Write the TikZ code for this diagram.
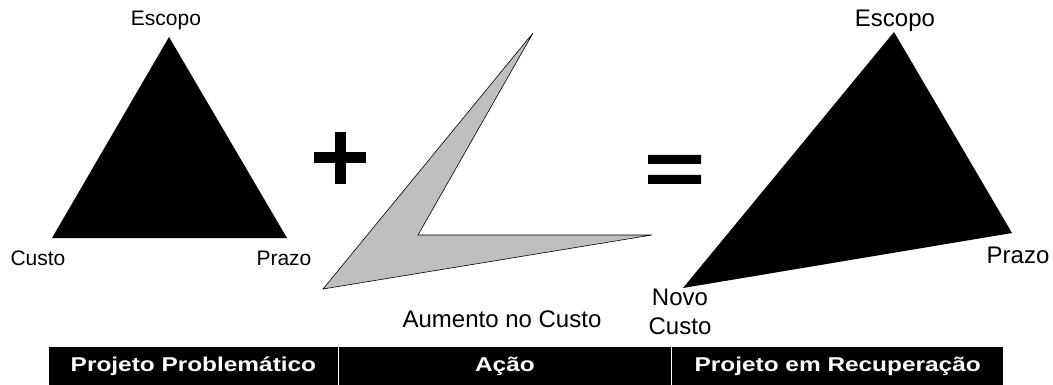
\documentclass[tikz,border=0pt]{standalone}
\usepackage{fontspec}
\usepackage{graphicx}
\setmainfont{Liberation Sans}
\usetikzlibrary{positioning}

\begin{document}
\begin{tikzpicture}[x=1pt,y=-1pt,
  lbl/.style={font=\fontsize{21}{24}\selectfont},
  lblr/.style={font=\fontsize{24}{27}\selectfont, align=center},
  cell/.style={fill=black, text=white, minimum height=38pt, inner sep=0pt,
    anchor=north west, font=\fontsize{20}{24}\selectfont\bfseries}]
  \useasboundingbox (0,0) rectangle (1053,385);
  % triangulo do projeto problematico
  \coordinate (e1) at (169,37);
  \coordinate (c1) at (52,238);
  \coordinate (p1) at (287,238);
  \fill (e1) -- (c1) -- (p1) -- cycle;
  \node[lbl] (escopo1) at (166,20) {Escopo};
  \node[lbl] (custo1) at (38,258) {Custo};
  \node[lbl] (prazo1) at (284,258) {Prazo};
  % acao
  \draw[line width=11pt] (314,158) -- (366,158) (340,132) -- (340,184);
  \draw[fill=gray!50, line width=0.6pt] (533,33) -- (323,289) -- (652,235) -- (418,235) -- cycle;
  \node[lblr] (aumento) at (502,319) {Aumento no Custo};
  \fill (648,155) rectangle (701,164) (648,175) rectangle (701,184);
  % triangulo em recuperacao
  \coordinate (e2) at (894,32);
  \coordinate (c2) at (683,288);
  \coordinate (p2) at (1012,233);
  \fill (e2) -- (c2) -- (p2) -- cycle;
  \node[lblr] (escopo2) at (895,21) {Escopo};
  \node[lblr] (prazo2) at (1018,255) {Prazo};
  \node[lblr, font=\fontsize{24}{29}\selectfont] (custo2) at (680,312) {Novo\\Custo};
  % faixa inferior
  \node[cell, minimum width=288.5pt] (col1) at (49,347) {\scalebox{1.22}[1]{Projeto Problemático}};
  \node[cell, minimum width=331.5pt] (col2) at (339,347) {\scalebox{1.22}[1]{Ação}};
  \node[cell, minimum width=331pt] (col3) at (672,347) {\scalebox{1.22}[1]{Projeto em Recuperação}};
\end{tikzpicture}
\end{document}
